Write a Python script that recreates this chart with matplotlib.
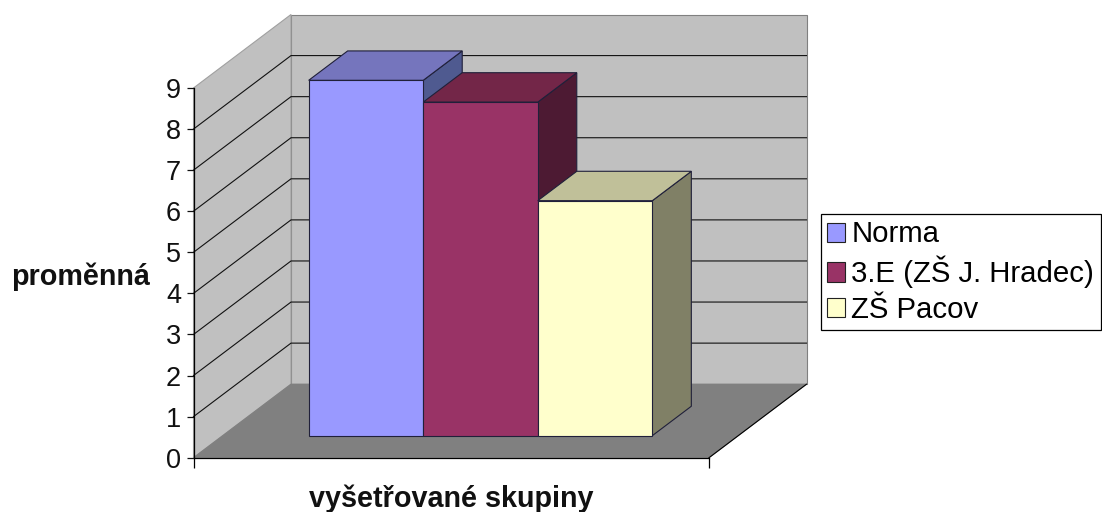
import matplotlib
matplotlib.use('Agg')
import matplotlib.pyplot as plt
from matplotlib.patches import Polygon, Patch

plt.rcParams['font.family'] = ['Liberation Sans', 'DejaVu Sans']

names = ['Norma', '3.E (ZŠ J. Hradec)', 'ZŠ Pacov']
values = [8.65, 8.12, 5.72]
y_ticks = [0, 1, 2, 3, 4, 5, 6, 7, 8, 9]
front_colors = ['#9999FF', '#993366', '#FFFFCC']
top_colors = ['#7575BD', '#732648', '#C0C099']
side_colors = ['#4F5A90', '#4D1A33', '#808066']

W, H = 1102, 512
x0, x1, y0, y9 = 193.5, 709.0, 457.7, 88.0
dx = 97.5 / (x1 - x0)
dy = 73.5 / ((y0 - y9) / 9)


def pr(x, y, d):
    # oblique projection, d = 0 front of the floor, d = 1 back wall
    return (x + d * dx, y + d * dy)


fig = plt.figure(figsize=(W / 100, H / 100), dpi=100, facecolor='white')
ax = fig.add_axes([x0 / W, 1 - y0 / H, (x1 - x0) / W, (y0 - y9) / H])
ax.set_xlim(0, 1)
ax.set_ylim(0, 9)
ax.patch.set_visible(False)
ax.spines['top'].set_visible(False)
ax.spines['right'].set_visible(False)
for s in ['left', 'bottom']:
    ax.spines[s].set_linewidth(0.9)
    ax.spines[s].set_zorder(9)


def face(pts, color, edge, z, lw=0.8):
    ax.add_patch(Polygon(pts, closed=True, facecolor=color, edgecolor=edge,
                         linewidth=lw, zorder=z, clip_on=False))


# walls and floor
face([pr(0, 0, 1), pr(1, 0, 1), pr(1, 9, 1), pr(0, 9, 1)], '#C0C0C0', '#808080', 1)
face([pr(0, 0, 0), pr(0, 0, 1), pr(0, 9, 1), pr(0, 9, 0)], '#C0C0C0', '#A0A0A0', 1)
face([pr(0, 0, 0), pr(1, 0, 0), pr(1, 0, 1), pr(0, 0, 1)], '#808080', '#808080', 2)
ax.plot(*zip(pr(1, 0, 0), pr(1, 0, 1)), color='black', lw=0.8, zorder=3, clip_on=False)

# gridlines, none on the top edge
for t in y_ticks[1:-1]:
    ax.plot(*zip(pr(0, t, 0), pr(0, t, 1), pr(1, t, 1)), color='#111111', lw=0.8,
            zorder=3, clip_on=False)

# bars
bar_w = 2 / 9
d_front, d_back = 0.3, 0.7
edge = '#20203A'
for i, v in enumerate(values):
    a = 1 / 6 + i * bar_w
    b = a + bar_w
    face([pr(b, 0, d_front), pr(b, 0, d_back), pr(b, v, d_back), pr(b, v, d_front)],
         side_colors[i], edge, 4 + i)
    face([pr(a, v, d_front), pr(b, v, d_front), pr(b, v, d_back), pr(a, v, d_back)],
         top_colors[i], edge, 4 + i)
    face([pr(a, 0, d_front), pr(b, 0, d_front), pr(b, v, d_front), pr(a, v, d_front)],
         front_colors[i], edge, 4 + i)

ax.set_yticks(y_ticks)
ax.set_xticks([0, 1])
ax.set_xticklabels(['', ''])
ax.tick_params(axis='y', labelsize=19.5, length=5, width=0.9, pad=4, colors='#111111')
ax.tick_params(axis='x', length=7, width=0.9)

fig.text(81 / W, 1 - 277 / H, 'proměnná', fontsize=20.7, fontweight='bold',
         ha='center', va='center', color='#111111')
fig.text(451 / W, 1 - 499 / H, 'vyšetřované skupiny', fontsize=20.7, fontweight='bold',
         ha='center', va='center', color='#111111')

handles = [Patch(facecolor=c, edgecolor='#222222', linewidth=0.8) for c in front_colors]
leg = fig.legend(handles, names, loc='upper left',
                 bbox_to_anchor=(820.7 / W, 1 - 214 / H), bbox_transform=fig.transFigure,
                 fontsize=21.2, fancybox=False, edgecolor='black', framealpha=1,
                 borderpad=0.22, borderaxespad=0, labelspacing=0.25,
                 handlelength=0.62, handleheight=0.62, handletextpad=0.2)
leg.get_frame().set_linewidth(0.9)

fig.savefig('out.png', dpi=100, facecolor='white')
